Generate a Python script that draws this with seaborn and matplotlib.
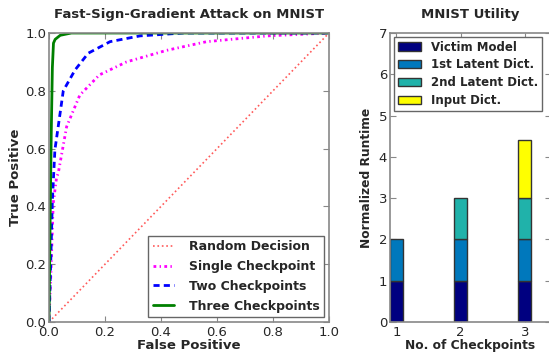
import pandas as pd
import seaborn as sns
import matplotlib.pyplot as plt
import numpy as np

# ROC curves
random_fp = [0.0, 1.0]
random_tp = [0.0, 1.0]

single_fp = [0.0, 0.008, 0.015, 0.027, 0.033, 0.063, 0.11, 0.18, 0.277, 0.42, 0.563, 0.78, 1.0]
single_tp = [0.0, 0.2, 0.41, 0.5, 0.515, 0.676, 0.785, 0.855, 0.90, 0.94, 0.97, 0.99, 1.0]

two_fp = [0.0, 0.006, 0.012, 0.021, 0.051, 0.093, 0.14, 0.218, 0.325, 0.48, 1.0]
two_tp = [0.0, 0.2, 0.42, 0.595, 0.80, 0.872, 0.93, 0.97, 0.99, 1.0, 1.0]

three_fp = [0.0, 0.004, 0.008, 0.012, 0.016, 0.022, 0.04, 0.08, 1.0]
three_tp = [0.0, 0.35, 0.65, 0.88, 0.965, 0.978, 0.992, 1.0, 1.0]

# runtime stacks
checkpoints = [1, 2, 3]
victim = [1, 1, 1]
latent1 = [1, 1, 1]
latent2 = [0, 1, 1]
input_dict = [0, 0, 1.4]

sns.set_style("ticks")
plt.rcParams['font.family'] = ['DejaVu Sans']
plt.rcParams['xtick.direction'] = 'in'
plt.rcParams['ytick.direction'] = 'in'
plt.rcParams['xtick.top'] = True
plt.rcParams['ytick.right'] = True
plt.rcParams['axes.edgecolor'] = '#888888'
plt.rcParams['axes.linewidth'] = 1.2

fig = plt.figure(figsize=(5.49, 3.56), dpi=100)
ax1 = fig.add_axes([49 / 549, 1 - 322 / 356, 280 / 549, 289 / 356])
ax2 = fig.add_axes([390 / 549, 1 - 322 / 356, 160.5 / 549, 289 / 356])

sns.lineplot(x=random_fp, y=random_tp, ax=ax1, color='#ff5a5a', linestyle=':', lw=1.2,
             label='Random Decision', sort=False)
sns.lineplot(x=single_fp, y=single_tp, ax=ax1, color='magenta', lw=2,
             dashes=(1, 1.2, 0.5, 1.2), label='Single Checkpoint', sort=False)
sns.lineplot(x=two_fp, y=two_tp, ax=ax1, color='blue', lw=2,
             dashes=(2.2, 1.5), label='Two Checkpoints', sort=False)
sns.lineplot(x=three_fp, y=three_tp, ax=ax1, color='green', linestyle='-', lw=2,
             label='Three Checkpoints', sort=False)

ax1.set_xlim(0, 1)
ax1.set_ylim(0, 1)
ax1.set_xticks(np.arange(0, 1.01, 0.2))
ax1.set_yticks(np.arange(0, 1.01, 0.2))
ax1.xaxis.set_major_formatter(plt.FormatStrFormatter('%.1f'))
ax1.yaxis.set_major_formatter(plt.FormatStrFormatter('%.1f'))
ax1.tick_params(labelsize=9.5, length=4, color='#888888', pad=2)
ax1.tick_params(axis='x', pad=3)
ax1.set_xlabel('False Positive', fontsize=9.5, fontweight='bold', labelpad=0)
ax1.set_ylabel('True Positive', fontsize=9.5, fontweight='bold', labelpad=2)
ax1.set_title('Fast-Sign-Gradient Attack on MNIST', fontsize=9.5, fontweight='bold', pad=11)
ax1.legend(loc='lower right', prop={'weight': 'bold', 'size': 9}, fancybox=False,
           edgecolor='#666666', framealpha=1, handlelength=1.7, handletextpad=1.2,
           borderpad=0.35, labelspacing=0.55, borderaxespad=0.4)

layers = [('Victim Model', victim, '#000080'),
          ('1st Latent Dict.', latent1, '#0078bc'),
          ('2nd Latent Dict.', latent2, '#20b2aa'),
          ('Input Dict.', input_dict, '#ffff00')]
bottom = np.zeros(3)
for name, vals, col in layers:
    df = pd.DataFrame({'x': checkpoints, 'y': vals, 'b': bottom})
    df = df[df['y'] > 0]
    sns.barplot(data=df, x='x', y='y', ax=ax2, native_scale=True, width=0.2,
                bottom=df['b'].values, color=col, saturation=1, edgecolor='#333333',
                linewidth=1, label=name)
    bottom = bottom + np.array(vals)

ax2.set_xlim(0.9, 3.4)
ax2.set_ylim(0, 7)
ax2.set_xticks(checkpoints)
ax2.set_yticks(range(8))
ax2.tick_params(labelsize=9.5, length=4, color='#888888', pad=2)
ax2.tick_params(axis='x', pad=3)
ax2.set_xlabel('No. of Checkpoints', fontsize=8.8, fontweight='bold', labelpad=0)
ax2.set_ylabel('Normalized Runtime', fontsize=8.8, fontweight='bold', labelpad=4)
ax2.set_title('MNIST Utility', fontsize=9.5, fontweight='bold', pad=11)
ax2.legend(loc='upper left', prop={'weight': 'bold', 'size': 8.5}, fancybox=False,
           edgecolor='#666666', framealpha=1, borderpad=0.35, labelspacing=0.4,
           handlelength=2.0, handletextpad=0.8, borderaxespad=0.3)

fig.savefig('out.png', dpi=100)
